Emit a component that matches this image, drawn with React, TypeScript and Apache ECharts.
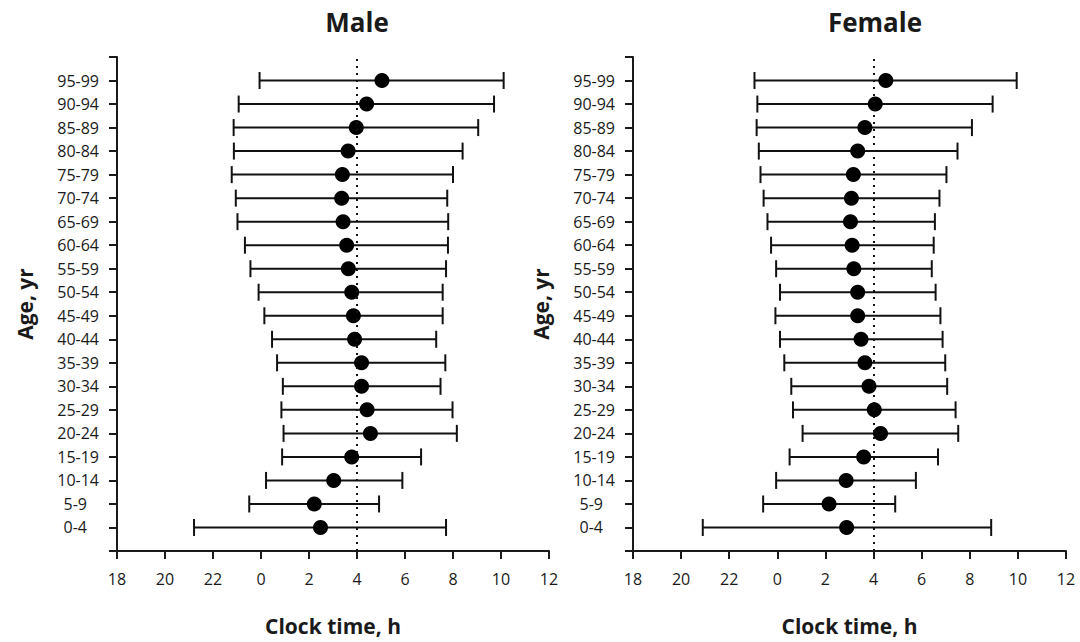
import React, { useEffect, useRef } from "react";
import * as echarts from "echarts";

const categories = [
  "0-4", "5-9", "10-14", "15-19", "20-24", "25-29", "30-34", "35-39", "40-44", "45-49",
  "50-54", "55-59", "60-64", "65-69", "70-74", "75-79", "80-84", "85-89", "90-94", "95-99",
];
const xTicks = [-6, -4, -2, 0, 2, 4, 6, 8, 10, 12];

const maleMean = [2.48, 2.22, 3.03, 3.78, 4.56, 4.42, 4.19, 4.19, 3.9, 3.85, 3.78, 3.64, 3.57, 3.42, 3.36, 3.39, 3.63, 3.97, 4.4, 5.04];
const maleLow = [-2.79, -0.49, 0.21, 0.88, 0.94, 0.85, 0.91, 0.67, 0.46, 0.14, -0.1, -0.44, -0.67, -0.98, -1.05, -1.22, -1.13, -1.14, -0.93, -0.06];
const maleHigh = [7.71, 4.92, 5.89, 6.67, 8.16, 7.98, 7.48, 7.68, 7.3, 7.57, 7.57, 7.71, 7.79, 7.8, 7.76, 8.0, 8.4, 9.05, 9.71, 10.11];

const femaleMean = [2.88, 2.15, 2.86, 3.59, 4.29, 4.03, 3.81, 3.64, 3.48, 3.34, 3.34, 3.18, 3.11, 3.04, 3.08, 3.16, 3.34, 3.64, 4.07, 4.51];
const femaleLow = [-3.1, -0.59, -0.05, 0.51, 1.05, 0.65, 0.58, 0.29, 0.11, -0.08, 0.11, -0.05, -0.26, -0.41, -0.57, -0.7, -0.77, -0.86, -0.83, -0.95];
const femaleHigh = [8.89, 4.9, 5.76, 6.68, 7.52, 7.41, 7.06, 6.98, 6.87, 6.78, 6.58, 6.42, 6.5, 6.55, 6.74, 7.03, 7.49, 8.09, 8.95, 9.95];

const refTime = 4;

const FONT = '"Open Sans", "DejaVu Sans", sans-serif';
const INK = "#1a1a1a";

function xAxisFor(gridIndex: number) {
  return {
    type: "value",
    gridIndex,
    min: xTicks[0],
    max: xTicks[xTicks.length - 1],
    interval: 2,
    name: "Clock time, h",
    nameLocation: "middle",
    nameGap: 64,
    nameTextStyle: { fontFamily: FONT, fontWeight: "bold", fontSize: 21, color: INK },
    axisLine: { show: true, onZero: false, lineStyle: { color: INK, width: 2 } },
    axisTick: { show: true, inside: false, length: 8, lineStyle: { color: INK, width: 2 } },
    axisLabel: {
      fontFamily: FONT,
      fontSize: 16,
      color: INK,
      margin: 20,
      formatter: (v: number) => String(v < 0 ? v + 24 : v),
    },
    splitLine: { show: false },
  };
}

function yAxisFor(gridIndex: number) {
  return {
    type: "value",
    gridIndex,
    min: 0,
    max: categories.length + 1,
    interval: 1,
    name: "Age, yr",
    nameLocation: "middle",
    nameGap: 82,
    nameRotate: 90,
    nameTextStyle: { fontFamily: FONT, fontWeight: "bold", fontSize: 21, color: INK },
    axisLine: { show: true, onZero: false, lineStyle: { color: INK, width: 2 } },
    axisTick: { show: true, inside: false, length: 8, lineStyle: { color: INK, width: 2 } },
    axisLabel: {
      fontFamily: FONT,
      fontSize: 16,
      color: INK,
      margin: 18,
      formatter: (v: number) => {
        const c = categories[v - 1];
        if (!c) return "";
        return c.length <= 3 ? "{s|" + c + "}" : c;
      },
      rich: {
        s: { fontFamily: FONT, fontSize: 16, color: INK, padding: [0, 12, 0, 0] },
      },
    },
    splitLine: { show: false },
  };
}

function seriesFor(idx: number, mean: number[], low: number[], high: number[]) {
  const barData = categories.map((_, i) => [low[i], high[i], i + 1]);
  const dotData = categories.map((_, i) => [mean[i], i + 1]);
  return [
    {
      type: "custom",
      xAxisIndex: idx,
      yAxisIndex: idx,
      data: barData,
      encode: { x: [0, 1], y: 2 },
      renderItem: (params: any, api: any) => {
        const y = api.value(2);
        const a = api.coord([api.value(0), y]);
        const b = api.coord([api.value(1), y]);
        const h = 8.5;
        const style = { stroke: "#111", lineWidth: 2 };
        return {
          type: "group",
          children: [
            { type: "line", shape: { x1: a[0], y1: a[1], x2: b[0], y2: b[1] }, style },
            { type: "line", shape: { x1: a[0], y1: a[1] - h, x2: a[0], y2: a[1] + h }, style },
            { type: "line", shape: { x1: b[0], y1: b[1] - h, x2: b[0], y2: b[1] + h }, style },
          ],
        };
      },
      z: 2,
    },
    {
      type: "scatter",
      xAxisIndex: idx,
      yAxisIndex: idx,
      data: dotData,
      symbol: "circle",
      symbolSize: 15,
      itemStyle: { color: "#000", opacity: 1 },
      z: 3,
      markLine: {
        silent: true,
        symbol: ["none", "none"],
        label: { show: false },
        lineStyle: { color: "#111", type: [2, 5], width: 2, opacity: 1 },
        data: [{ xAxis: refTime }],
      },
    },
  ];
}

export default function App() {
  const ref = useRef<HTMLDivElement>(null);
  useEffect(() => {
    if (!ref.current) return;
    const chart = echarts.init(ref.current, null, { renderer: "svg" });
    chart.setOption({
      animation: false,
      backgroundColor: "#fff",
      grid: [
        { left: 117, top: 57, width: 432, height: 494 },
        { left: 633, top: 57, width: 433, height: 494 },
      ],
      xAxis: [xAxisFor(0), xAxisFor(1)],
      yAxis: [yAxisFor(0), yAxisFor(1)],
      graphic: [
        {
          type: "text",
          x: 357,
          y: 22,
          style: { text: "Male", font: 'bold 26px "Open Sans", sans-serif', fill: INK, align: "center", verticalAlign: "middle" },
        },
        {
          type: "text",
          x: 875,
          y: 22,
          style: { text: "Female", font: 'bold 26px "Open Sans", sans-serif', fill: INK, align: "center", verticalAlign: "middle" },
        },
      ],
      series: [
        ...seriesFor(0, maleMean, maleLow, maleHigh),
        ...seriesFor(1, femaleMean, femaleLow, femaleHigh),
      ],
    });
    return () => chart.dispose();
  }, []);
  return (
    <div
      ref={ref}
      style={{ position: "fixed", left: 0, top: 0, width: 1080, height: 642, background: "#fff" }}
    />
  );
}
